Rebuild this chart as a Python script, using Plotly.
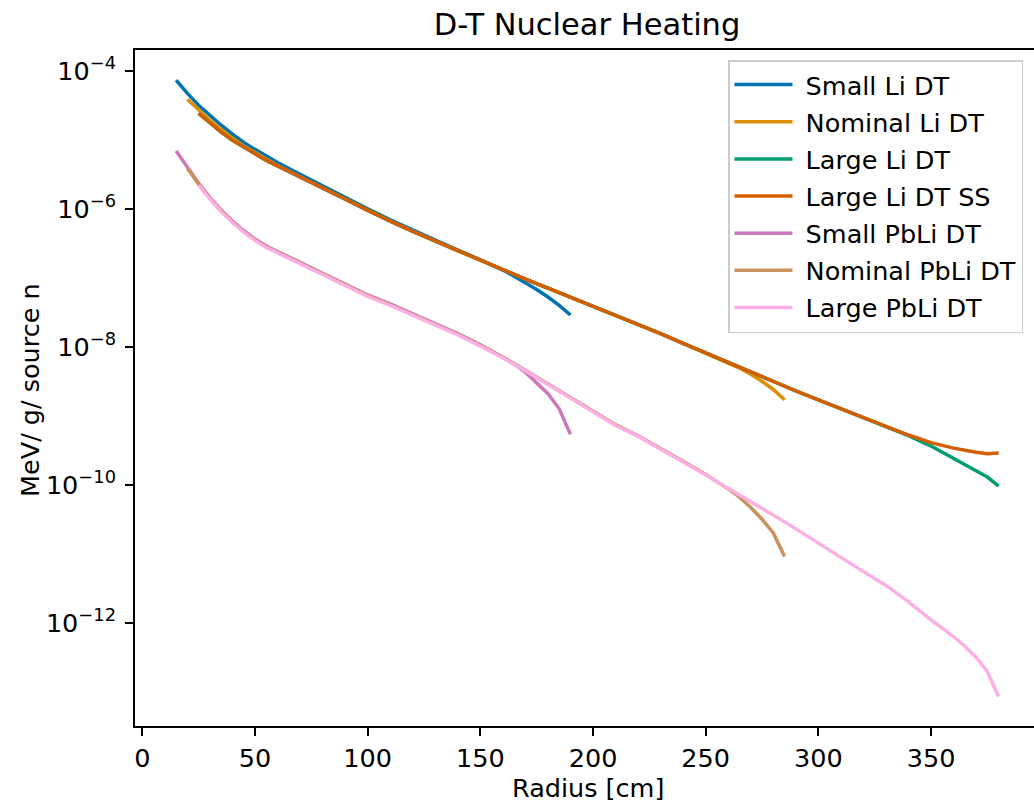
import plotly.graph_objects as go

# ---------------- data ----------------
r_small_li = [15, 20, 25, 30, 35, 40, 45, 50, 55, 60, 70, 80, 90, 100, 110, 120, 130, 140,
              150, 160, 165, 170, 175, 180, 185, 190]
small_li = [7.33e-5, 4.68e-5, 3.16e-5, 2.24e-5, 1.62e-5, 1.20e-5, 9.12e-6, 7.24e-6, 5.75e-6,
            4.68e-6, 3.16e-6, 2.14e-6, 1.45e-6, 1.00e-6, 6.92e-7, 4.90e-7, 3.47e-7, 2.51e-7,
            1.82e-7, 1.29e-7, 1.05e-7, 8.51e-8, 6.76e-8, 5.25e-8, 3.98e-8, 2.88e-8]

r_nom_li = [20, 25, 30, 35, 40, 45, 50, 55, 60, 70, 80, 90, 100, 110, 120, 130, 140, 150,
            160, 170, 180, 190, 200, 210, 220, 230, 240, 250, 260, 265, 270, 275, 280, 285]
nom_li = [3.85e-5, 2.69e-5, 1.91e-5, 1.41e-5, 1.05e-5, 8.13e-6, 6.46e-6, 5.25e-6, 4.27e-6,
          2.95e-6, 2.00e-6, 1.38e-6, 9.33e-7, 6.61e-7, 4.68e-7, 3.39e-7, 2.45e-7, 1.78e-7,
          1.29e-7, 9.55e-8, 7.08e-8, 5.25e-8, 3.89e-8, 2.88e-8, 2.14e-8, 1.55e-8, 1.12e-8,
          8.13e-9, 5.89e-9, 4.90e-9, 3.98e-9, 3.16e-9, 2.40e-9, 1.70e-9]

r_large_li = [25, 30, 35, 40, 45, 50, 55, 60, 70, 80, 90, 100, 110, 120, 130, 140, 150, 160,
              170, 180, 190, 200, 210, 220, 230, 240, 250, 260, 270, 280, 290, 300, 310, 320,
              330, 340, 350, 360, 365, 370, 375, 380]
large_li = [2.40e-5, 1.74e-5, 1.29e-5, 9.77e-6, 7.76e-6, 6.17e-6, 5.01e-6, 4.17e-6, 2.88e-6,
            2.00e-6, 1.38e-6, 9.33e-7, 6.61e-7, 4.68e-7, 3.39e-7, 2.45e-7, 1.78e-7, 1.29e-7,
            9.55e-8, 7.08e-8, 5.25e-8, 3.89e-8, 2.88e-8, 2.14e-8, 1.55e-8, 1.12e-8, 8.13e-9,
            6.03e-9, 4.37e-9, 3.16e-9, 2.29e-9, 1.70e-9, 1.26e-9, 9.33e-10, 6.92e-10, 5.13e-10,
            3.63e-10, 2.40e-10, 1.95e-10, 1.58e-10, 1.29e-10, 9.55e-11]

r_large_li_ss = [25, 30, 35, 40, 45, 50, 55, 60, 70, 80, 90, 100, 110, 120, 130, 140, 150, 160,
                 170, 180, 190, 200, 210, 220, 230, 240, 250, 260, 270, 280, 290, 300, 310, 320,
                 330, 340, 350, 360, 370, 375, 380]
large_li_ss = [2.40e-5, 1.74e-5, 1.29e-5, 9.77e-6, 7.76e-6, 6.17e-6, 5.01e-6, 4.17e-6, 2.88e-6,
               2.00e-6, 1.38e-6, 9.33e-7, 6.61e-7, 4.68e-7, 3.39e-7, 2.45e-7, 1.78e-7, 1.29e-7,
               9.55e-8, 7.08e-8, 5.25e-8, 3.89e-8, 2.88e-8, 2.14e-8, 1.55e-8, 1.12e-8, 8.13e-9,
               6.03e-9, 4.37e-9, 3.16e-9, 2.29e-9, 1.70e-9, 1.26e-9, 9.33e-10, 6.92e-10, 5.25e-10,
               4.07e-10, 3.39e-10, 2.95e-10, 2.82e-10, 2.88e-10]

r_small_pbli = [15, 20, 25, 30, 35, 40, 45, 50, 55, 60, 70, 80, 90, 100, 110, 120, 130, 140,
                150, 160, 165, 170, 175, 180, 185, 190]
small_pbli = [6.85e-6, 3.98e-6, 2.34e-6, 1.45e-6, 9.55e-7, 6.61e-7, 4.79e-7, 3.63e-7, 2.88e-7,
              2.40e-7, 1.66e-7, 1.17e-7, 8.13e-8, 5.62e-8, 4.17e-8, 3.02e-8, 2.19e-8, 1.55e-8,
              1.07e-8, 7.08e-9, 5.62e-9, 4.27e-9, 3.02e-9, 2.09e-9, 1.26e-9, 5.37e-10]

r_nom_pbli = [20, 25, 30, 35, 40, 45, 50, 55, 60, 70, 80, 90, 100, 110, 120, 130, 140, 150,
              160, 170, 180, 190, 200, 210, 220, 230, 240, 250, 260, 265, 270, 275, 280, 285]
nom_pbli = [3.85e-6, 2.26e-6, 1.41e-6, 9.33e-7, 6.46e-7, 4.68e-7, 3.55e-7, 2.82e-7, 2.34e-7,
            1.62e-7, 1.15e-7, 7.94e-8, 5.50e-8, 4.07e-8, 2.95e-8, 2.14e-8, 1.51e-8, 1.05e-8,
            7.08e-9, 4.57e-9, 2.88e-9, 1.82e-9, 1.15e-9, 7.41e-10, 5.13e-10, 3.39e-10, 2.19e-10,
            1.41e-10, 8.71e-11, 6.61e-11, 4.68e-11, 3.16e-11, 2.00e-11, 9.12e-12]

r_large_pbli = [25, 30, 35, 40, 45, 50, 55, 60, 70, 80, 90, 100, 110, 120, 130, 140, 150, 160,
                170, 180, 190, 200, 210, 220, 230, 240, 250, 260, 270, 280, 290, 300, 310, 320,
                330, 340, 350, 360, 365, 370, 375, 380]
large_pbli = [2.19e-6, 1.38e-6, 9.12e-7, 6.31e-7, 4.57e-7, 3.47e-7, 2.75e-7, 2.29e-7, 1.58e-7,
              1.12e-7, 7.76e-8, 5.37e-8, 3.98e-8, 2.88e-8, 2.09e-8, 1.48e-8, 1.02e-8, 6.92e-9,
              4.47e-9, 2.82e-9, 1.78e-9, 1.12e-9, 7.24e-10, 5.01e-10, 3.31e-10, 2.14e-10,
              1.38e-10, 8.91e-11, 5.75e-11, 3.63e-11, 2.29e-11, 1.41e-11, 8.71e-12, 5.50e-12,
              3.47e-12, 2.00e-12, 1.10e-12, 6.31e-13, 4.57e-13, 3.16e-13, 1.95e-13, 8.51e-14]

series_names = ["Small Li DT", "Nominal Li DT", "Large Li DT", "Large Li DT SS",
                "Small PbLi DT", "Nominal PbLi DT", "Large PbLi DT"]
series_x = [r_small_li, r_nom_li, r_large_li, r_large_li_ss, r_small_pbli, r_nom_pbli, r_large_pbli]
series_y = [small_li, nom_li, large_li, large_li_ss, small_pbli, nom_pbli, large_pbli]
colors = ["#0173b2", "#de8f05", "#029e73", "#d55e00", "#cc78bc", "#ca9161", "#fbafe4"]

y_tick_vals = [1e-4, 1e-6, 1e-8, 1e-10, 1e-12]
y_tick_text = ["10<sup>\u22124</sup>", "10<sup>\u22126</sup>", "10<sup>\u22128</sup>",
               "10<sup>\u221210</sup>", "10<sup>\u221212</sup>"]
x_tick_vals = [0, 50, 100, 150, 200, 250, 300, 350]

# ---------------- figure ----------------
FONT = "DejaVu Sans"
FS = 25.5
fig = go.Figure()
for i, (name, xs, ys, c) in enumerate(zip(series_names, series_x, series_y, colors)):
    fig.add_trace(go.Scatter(x=xs, y=ys, mode="lines", name="\u00a0" + name,
                             line=dict(color=c, width=3.5), legendgroup=f"g{i}"))

W, H = 1034, 805
ML, MT, MB, MR = 135, 50, 79, 0
fig.update_layout(
    width=W, height=H,
    margin=dict(l=ML, r=MR, t=MT, b=MB, pad=0),
    paper_bgcolor="white", plot_bgcolor="white",
    font=dict(family=FONT, size=FS, color="black"),
    title=dict(text="D-T Nuclear Heating", font=dict(size=30.5, family=FONT, color="black"),
               x=(587 - ML) / (W - ML - MR), xref="paper", xanchor="center",
               y=1 - 24 / H, yref="container", yanchor="middle"),
    showlegend=True,
    legend=dict(x=(728 - ML) / (W - ML - MR), y=(H - MB - 60) / (H - MT - MB),
                xanchor="left", yanchor="top",
                bgcolor="rgba(255,255,255,0.8)", bordercolor="#cccccc", borderwidth=1.5,
                font=dict(size=FS, family=FONT, color="black"),
                tracegroupgap=1, itemwidth=58),
    xaxis=dict(range=[-3.25, 395.7], tickvals=x_tick_vals, ticks="outside", ticklen=8,
               tickwidth=1.8, tickcolor="black", showline=True, linecolor="black",
               linewidth=1.8, mirror=True, showgrid=False, zeroline=False,
               tickfont=dict(size=FS, family=FONT)),
    yaxis=dict(type="log", range=[-13.497, -3.70], tickvals=y_tick_vals, ticktext=y_tick_text,
               ticks="outside", ticklen=8, tickwidth=1.8, tickcolor="black", showline=True,
               linecolor="black", linewidth=1.8, mirror=False, showgrid=False, zeroline=False,
               tickfont=dict(size=FS, family=FONT), ticklabelstandoff=4),
    annotations=[
        dict(text="Radius [cm]", x=588, y=H - 788, xref="paper", yref="paper",
             showarrow=False, font=dict(size=FS, family=FONT), xanchor="center", yanchor="middle"),
        dict(text="MeV/ g/ source n", x=30, y=H - 390, xref="paper", yref="paper",
             showarrow=False, textangle=-90, font=dict(size=FS, family=FONT),
             xanchor="center", yanchor="middle"),
    ],
)
# convert annotation pixel positions into paper coordinates
pw, ph = W - ML - MR, H - MT - MB
for a in fig.layout.annotations:
    a.x = (a.x - ML) / pw
    a.y = (a.y - MB) / ph

fig.write_html("out.html")
